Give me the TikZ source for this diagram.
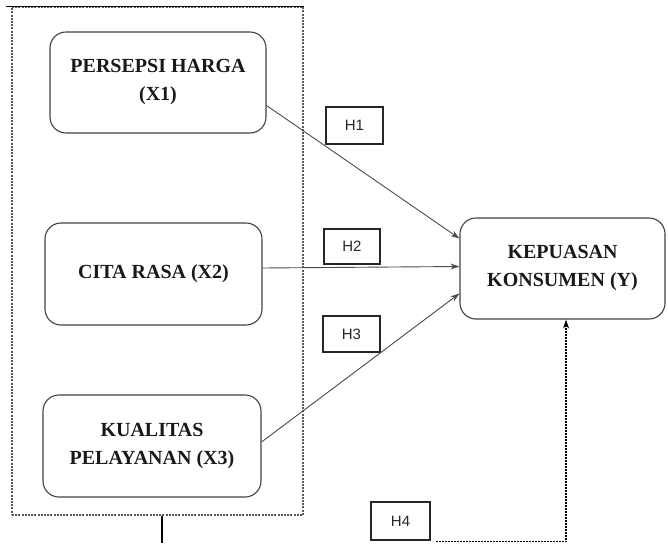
\documentclass[tikz,border=0pt]{standalone}
\usepackage{fontspec}
\setmainfont{Liberation Serif}
\setsansfont{Liberation Sans}
\usetikzlibrary{arrows.meta}

\begin{document}
\begin{tikzpicture}[x=1pt,y=-1pt,
    varbox/.style={draw=black!75,line width=1.1pt,rounded corners=16pt,align=center,
      font=\fontsize{20}{28}\selectfont\bfseries,text=black!90},
    hypbox/.style={draw=black!85,line width=1.4pt,inner sep=0pt,
      font=\sffamily\fontsize{15}{15}\selectfont,text=black!85},
    link/.style={draw=black!70,line width=0.9pt,-{Stealth[length=9pt,width=6pt]}},
    groupframe/.style={draw=black!65,line width=1.2pt,dash pattern=on 2pt off 1.2pt}]
                \useasboundingbox (0,0) rectangle (668,543);

                \node[groupframe,minimum width=291pt,minimum height=508pt] (frame) at (157.5,261) {};
                \draw[black,line width=1.2pt] ([xshift=-5pt]frame.north west) -- (frame.north east);

                \node[varbox,minimum width=216pt,minimum height=101pt] (x1) at (158,82.5) {PERSEPSI HARGA\\(X1)};
                \node[varbox,minimum width=217pt,minimum height=102pt] (x2) at (153.5,274) {CITA RASA (X2)};
                \node[varbox,minimum width=218pt,minimum height=102pt] (x3) at (152,446) {KUALITAS\\PELAYANAN (X3)};
                \node[varbox,minimum width=205pt,minimum height=101pt] (y) at (562.5,268.5) {KEPUASAN\\KONSUMEN (Y)};

                \node[hypbox,minimum width=57pt,minimum height=37pt] (h1) at (354.5,125.5) {H1};
                \node[hypbox,minimum width=56pt,minimum height=35pt] (h2) at (352,246.5) {H2};
                \node[hypbox,minimum width=57pt,minimum height=36pt] (h3) at (351.5,334) {H3};
                \node[hypbox,minimum width=59pt,minimum height=38pt] (h4) at (400.5,521) {H4};

                \coordinate (base) at (162,543);
                \coordinate (h4end) at (436,541.5);

                \draw[link] ([yshift=-23pt]x1.east) -- ([yshift=30pt]y.west);
                \draw[link] ([yshift=6pt]x2.east) -- ([yshift=2pt]y.west);
                \draw[link] ([yshift=4pt]x3.east) -- ([yshift=-25pt]y.west);
                \draw[black,line width=1.2pt] (frame.south -| base) -- (base);
                \draw[link,draw=black,line width=1.1pt,dash pattern=on 2pt off 1pt] (h4end) -| ([xshift=3.5pt]y.south);
            \end{tikzpicture}
\end{document}
